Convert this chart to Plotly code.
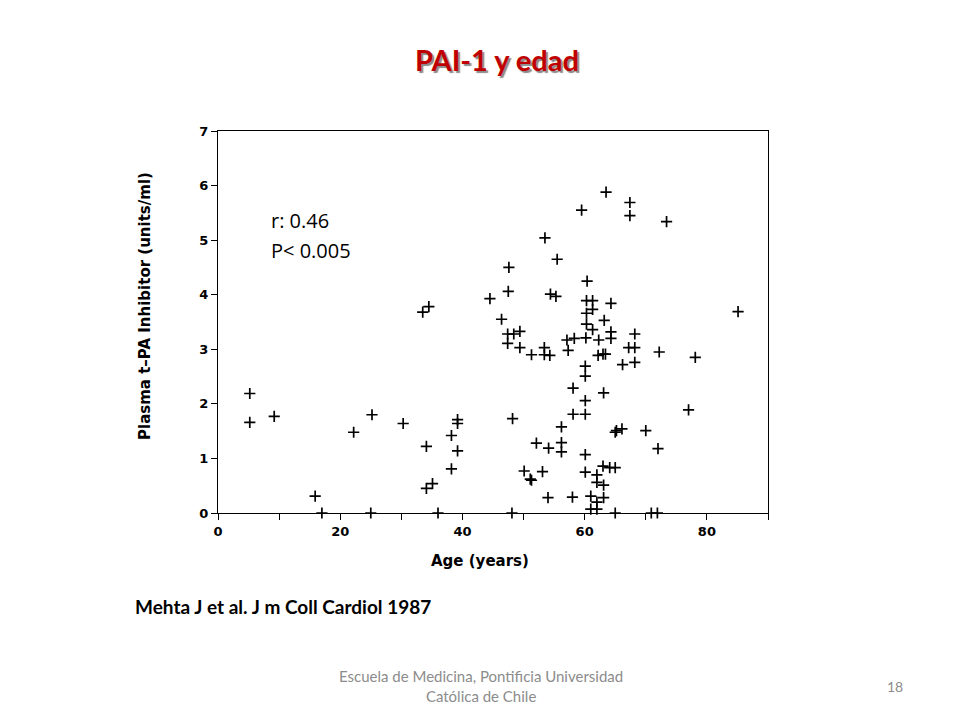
import plotly.graph_objects as go

# Age (years) and plasma t-PA inhibitor (units/ml)
ages = [5.2, 5.2, 9.2, 15.9, 17.0, 22.2, 25.2, 25.0, 30.3, 34.1, 34.1, 35.1, 36.0,
        38.2, 38.2, 39.2, 39.2, 39.2, 33.5, 34.5, 44.5,
        63.5, 67.4, 67.4, 59.5, 73.4, 53.5, 55.5, 47.6, 60.4, 47.5, 54.4, 55.3,
        60.3, 61.3, 64.3, 60.3, 61.3, 46.4, 63.2, 85.1, 60.3, 61.3, 64.3, 47.4,
        48.4, 49.4, 57.1, 58.3, 60.2, 62.3, 64.3, 68.2, 47.4, 49.4, 53.4, 53.4,
        54.3, 51.3, 57.3, 62.2, 63.0, 63.4, 67.2, 68.2, 72.2, 78.1, 66.2, 68.2,
        60.1, 60.1,
        58.1, 63.1, 60.1, 48.2, 58.1, 60.1, 56.2, 65.0, 65.2, 66.1, 70.0, 72.0,
        77.0, 52.1, 56.2, 54.1, 56.2, 60.1, 63.0, 64.1, 65.0, 50.1, 53.1, 60.1,
        51.1, 51.3, 62.0, 62.0, 63.1, 54.0, 58.0, 61.0, 63.1, 62.0, 61.0, 62.0,
        48.1, 65.0, 70.9, 71.9]
pai = [2.19, 1.66, 1.77, 0.31, 0.0, 1.48, 1.80, 0.0, 1.64, 1.22, 0.45, 0.54, 0.0,
       1.42, 0.81, 1.71, 1.64, 1.14, 3.68, 3.78, 3.93,
       5.88, 5.69, 5.45, 5.55, 5.34, 5.04, 4.65, 4.50, 4.25, 4.06, 4.01, 3.97,
       3.89, 3.89, 3.84, 3.66, 3.73, 3.55, 3.53, 3.69, 3.46, 3.36, 3.32, 3.28,
       3.28, 3.33, 3.17, 3.20, 3.21, 3.17, 3.20, 3.28, 3.11, 3.03, 3.03, 2.90,
       2.89, 2.90, 2.98, 2.89, 2.91, 2.91, 3.03, 3.03, 2.95, 2.85, 2.72, 2.76,
       2.69, 2.51,
       2.29, 2.20, 2.06, 1.73, 1.81, 1.81, 1.58, 1.48, 1.51, 1.54, 1.51, 1.18,
       1.89, 1.28, 1.29, 1.19, 1.12, 1.07, 0.86, 0.83, 0.83, 0.77, 0.76, 0.75,
       0.62, 0.60, 0.70, 0.56, 0.51, 0.28, 0.29, 0.31, 0.28, 0.20, 0.07, 0.07,
       0.0, 0.0, 0.0, 0.0]

x_tickvals = [0, 10, 20, 30, 40, 50, 60, 70, 80, 90]
x_ticktext = ["0", "", "20", "", "40", "", "60", "", "80", ""]
y_tickvals = [0, 1, 2, 3, 4, 5, 6, 7]

# page body has an 8px margin; plot area in page pixels: x 218-768, y 131-513
L, T, W, H = 210, 123, 550, 382

fig = go.Figure()
fig.add_trace(go.Scatter(
    x=ages, y=pai, mode="markers", cliponaxis=False,
    marker=dict(symbol="cross-thin", size=8, color="black",
                line=dict(width=1.7, color="black")),
    showlegend=False, hoverinfo="x+y"))

axis_font = dict(family="DejaVu Sans", size=13, color="black", weight="bold")
fig.update_xaxes(range=[0, 90], tickvals=x_tickvals, ticktext=x_ticktext,
                 ticks="outside", ticklen=6, tickwidth=1.2, tickcolor="black",
                 showline=True, linewidth=1.4, linecolor="black", mirror=True,
                 showgrid=False, zeroline=False, tickfont=axis_font)
fig.update_yaxes(range=[0, 7], tickvals=y_tickvals,
                 ticks="outside", ticklen=6, tickwidth=1.2, tickcolor="black",
                 showline=True, linewidth=1.4, linecolor="black", mirror=True,
                 showgrid=False, zeroline=False, tickfont=axis_font)


def px_x(px):
    return (px - 218) / W


def below(px_y):
    return -(px_y - 513)


annotations = [
    dict(text="<b>PAI-1 y edad</b>", x=px_x(497), y=1, xref="paper", yref="paper",
         yshift=131 - 59, showarrow=False, yanchor="middle", xanchor="center",
         font=dict(family="Lato", size=29, color="#C00000",
                   shadow="2px 2px 1px rgba(60,60,60,0.6)")),
    dict(text="r: 0.46", x=px_x(269), y=1, xref="paper", yref="paper",
         yshift=-(220 - 131), showarrow=False, xanchor="left", yanchor="middle",
         font=dict(family="Open Sans", size=20, color="black")),
    dict(text="P< 0.005", x=px_x(269), y=1, xref="paper", yref="paper",
         yshift=-(250 - 131), showarrow=False, xanchor="left", yanchor="middle",
         font=dict(family="Open Sans", size=20, color="black")),
    dict(text="Plasma t\u2013PA Inhibitor (units/ml)", x=0, y=(513 - 306) / H,
         xref="paper", yref="paper", xshift=-73, textangle=-90, showarrow=False,
         xanchor="center", yanchor="middle",
         font=dict(family="DejaVu Sans", size=15, color="black", weight="bold")),
    dict(text="Age (years)", x=px_x(480), y=0, xref="paper", yref="paper",
         yshift=below(561), showarrow=False, xanchor="center", yanchor="middle",
         font=dict(family="DejaVu Sans", size=15, color="black", weight="bold")),
    dict(text="<b>Mehta J et al. J m Coll Cardiol 1987</b>", x=px_x(133), y=0,
         xref="paper", yref="paper", yshift=below(606), xanchor="left",
         yanchor="middle", showarrow=False,
         font=dict(family="Lato", size=19, color="black")),
    dict(text="Escuela de Medicina, Pontificia Universidad<br>Católica de Chile",
         x=px_x(481), y=0, xref="paper", yref="paper", yshift=below(686),
         showarrow=False, align="center", xanchor="center", yanchor="middle",
         font=dict(family="Lato", size=15, color="#8c8c8c")),
    dict(text="18", x=px_x(895), y=0, xref="paper", yref="paper",
         yshift=below(686), showarrow=False, xanchor="center", yanchor="middle",
         font=dict(family="Lato", size=14, color="#8c8c8c")),
]

fig.update_layout(width=960, height=720,
                  margin=dict(l=L, r=960 - L - W, t=T, b=720 - T - H),
                  paper_bgcolor="white", plot_bgcolor="white",
                  annotations=annotations)

fig.write_html("out.html")
